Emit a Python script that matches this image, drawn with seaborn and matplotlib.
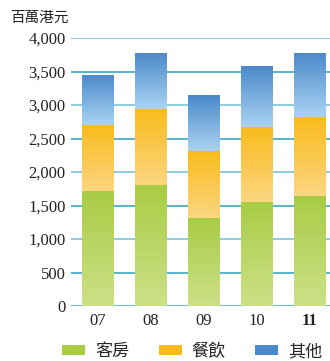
import numpy as np
import pandas as pd
import matplotlib
matplotlib.use("Agg")
import matplotlib.pyplot as plt
from matplotlib.colors import LinearSegmentedColormap
from matplotlib.patches import Patch
import seaborn as sns

years = ["07", "08", "09", "10", "11"]
rooms = [1720, 1810, 1320, 1555, 1645]
food = [980, 1130, 995, 1115, 1175]
other = [750, 840, 835, 910, 960]
series_names = ["客房", "餐飲", "其他"]
y_ticks = [0, 500, 1000, 1500, 2000, 2500, 3000, 3500, 4000]

# top colour -> bottom colour for each series gradient
grad = {
    "客房": ("#a8cc44", "#cde088"),
    "餐飲": ("#f9bb1c", "#fcd681"),
    "其他": ("#4a89ca", "#aad4f2"),
}
legend_colors = {"客房": "#a8cc44", "餐飲": "#f9bb1c", "其他": "#4a89ca"}

sns.set_theme(style="white")
plt.rcParams["font.family"] = ["Liberation Serif", "Noto Sans CJK TC"]

df = pd.DataFrame({"year": years, "客房": rooms, "餐飲": food, "其他": other})
df["c1"] = df["客房"]
df["c2"] = df["客房"] + df["餐飲"]
df["c3"] = df["c2"] + df["其他"]

fig = plt.figure(figsize=(3.30, 3.61), dpi=100)
ax = fig.add_axes([0.215, 0.1524, 0.785, 0.742])

# gridlines
for t in y_ticks:
    ax.axhline(t, color="#2a9fbf" if t % 1000 else "#6cc0d4",
               lw=1.4 if t == 0 else 1.1, zorder=0)

# cumulative stacks drawn back to front: total, rooms+food, rooms
layers = [("c3", "其他"), ("c2", "餐飲"), ("c1", "客房")]
for col, name in layers:
    sns.barplot(data=df, x="year", y=col, color=legend_colors[name], width=0.6,
                ax=ax, saturation=1, zorder=2)

XLIM = (-0.51, 4.38)
ax.set_xlim(*XLIM)
ax.set_ylim(0, 4000)

# vertical gradient fill for each stacked segment
lower = {"其他": df["c2"].values, "餐飲": df["c1"].values, "客房": np.zeros(len(df))}
z = {"其他": 2.1, "餐飲": 2.2, "客房": 2.3}
patches = list(ax.patches)
for k, (col, name) in enumerate(layers):
    top_c, bot_c = grad[name]
    cmap = LinearSegmentedColormap.from_list("g_" + name, [bot_c, top_c])
    img = np.linspace(0, 1, 256).reshape(-1, 1)
    for i in range(len(df)):
        patch = patches[k * len(df) + i]
        x0, w, h = patch.get_x(), patch.get_width(), patch.get_height()
        im = ax.imshow(img, cmap=cmap, aspect="auto", origin="lower",
                       extent=[x0, x0 + w, lower[name][i], h], zorder=z[name])
        im.set_clip_path(patch)
        patch.set_facecolor("none")
        patch.set_edgecolor("none")

ax.set_xlim(*XLIM)
ax.set_ylim(0, 4000)
ax.set_xlabel("")
ax.set_ylabel("")
ax.set_yticks(y_ticks)
ax.set_yticklabels([f"{t:,}" for t in y_ticks], fontsize=12, color="#222222")
ax.tick_params(axis="y", length=0, pad=4)
ax.tick_params(axis="x", length=0, pad=5)
ax.set_xticks(range(len(years)))
ax.set_xticklabels(years, fontsize=12, color="#222222")
ax.get_xticklabels()[-1].set_fontweight("bold")
for s in ax.spines.values():
    s.set_visible(False)

fig.text(0.03, 0.952, "百萬港元", fontsize=10.5, family=["Noto Sans CJK TC"],
         color="#222222", va="center", ha="left")

handles = [Patch(facecolor=legend_colors[n], edgecolor="none") for n in series_names]
fig.legend(handles, series_names, loc="center left", bbox_to_anchor=(62 / 330, 0.027),
           ncol=3, frameon=False, handlelength=1.35, handleheight=0.55,
           columnspacing=1.72, handletextpad=0.58, borderpad=0, borderaxespad=0,
           prop={"family": "Noto Sans CJK TC", "size": 12.3})

fig.savefig("out.png", dpi=100, facecolor="white")
